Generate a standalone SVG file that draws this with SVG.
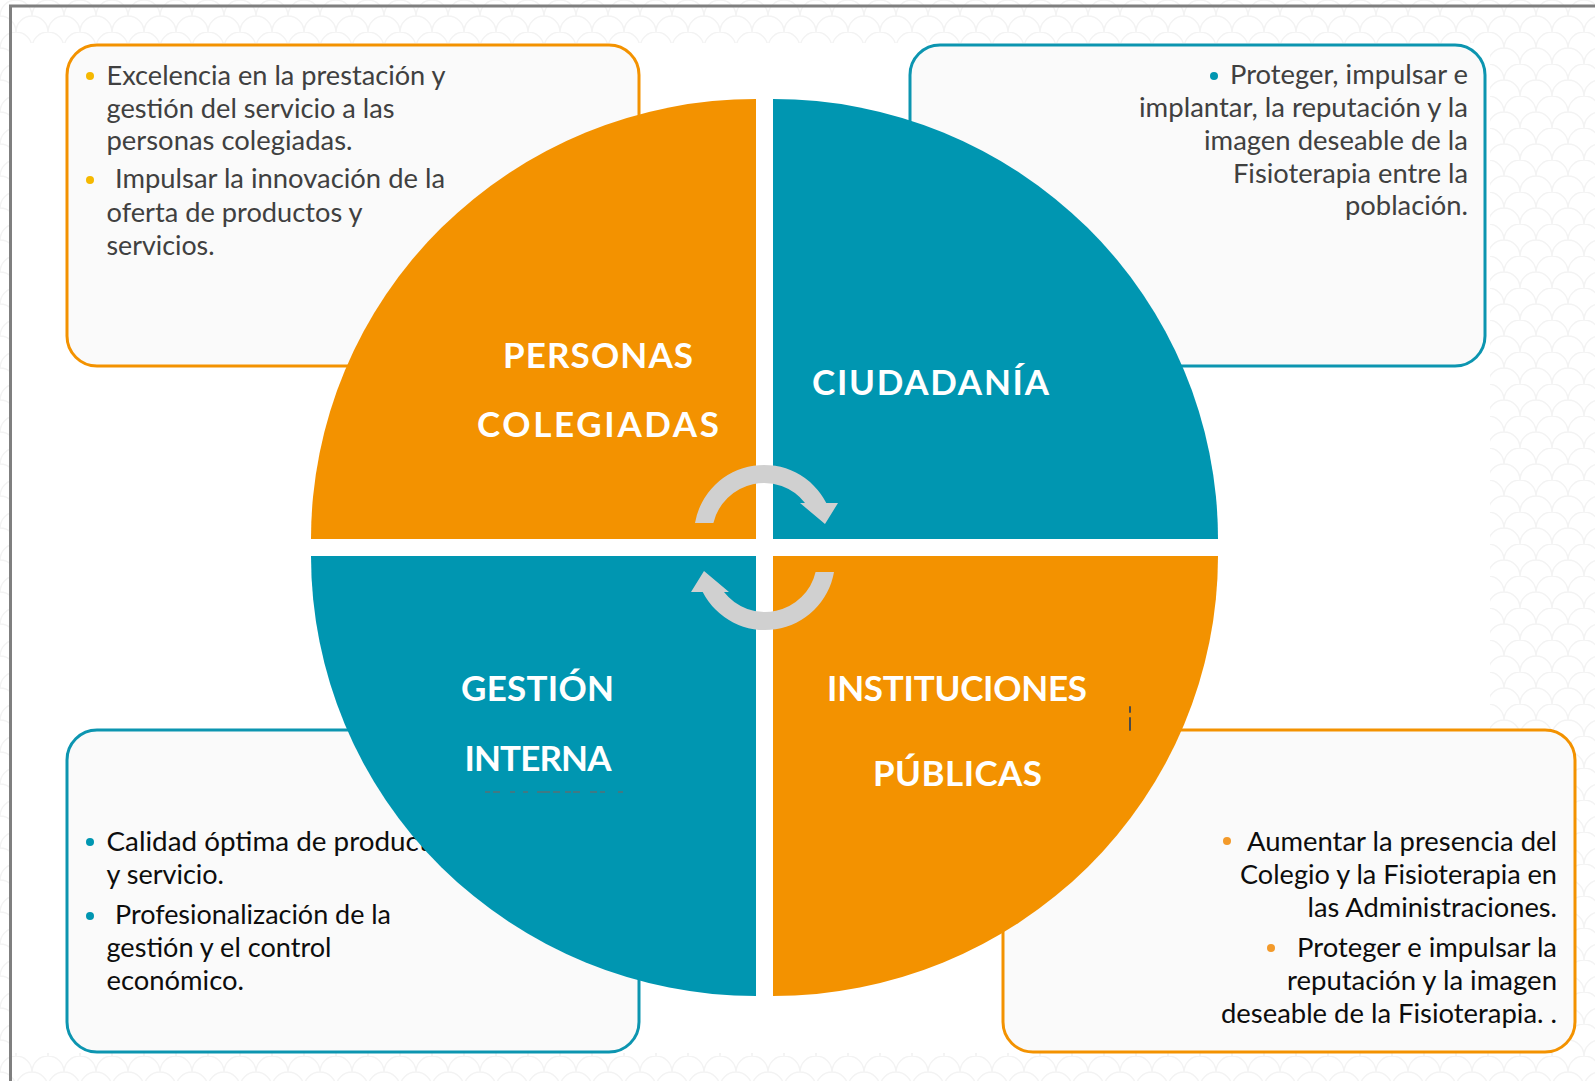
<svg xmlns="http://www.w3.org/2000/svg" width="1595" height="1081" viewBox="0 0 1595 1081">
<defs>
<pattern id="scales" width="32" height="32" patternUnits="userSpaceOnUse">
<path d="M0,16 A16,16 0 0 1 32,16 M-16,32 A16,16 0 0 1 16,32 M16,32 A16,16 0 0 1 48,32 M-16,0 A16,16 0 0 1 16,0 M16,0 A16,16 0 0 1 48,0" fill="none" stroke="#f3f3f3" stroke-width="1.5"/>
</pattern>
</defs>
<style>
.box{fill:#fafafa;stroke-width:3}
.bo{stroke:#f39200}
.bt{stroke:#0c95b0}
.qo{fill:#f39200}
.qt{fill:#0096b1}
.body{font-family:Lato,"Liberation Sans",sans-serif;font-size:27.5px}
.g1{fill:#404040}
.g2{fill:#0d0d0d}
.lbl{font-family:Lato,"Liberation Sans",sans-serif;font-weight:700;font-size:35px;fill:#ffffff;text-anchor:middle}
.arr{fill:#d0d0d0}
</style>
<rect x="0" y="0" width="1595" height="1081" fill="#ffffff"/>
<rect x="0" y="0" width="1595" height="1081" fill="url(#scales)"/>
<rect x="12" y="43" width="1478" height="1010" fill="#ffffff"/>
<path d="M10.5,1081 V6 H1595" fill="none" stroke="#7f7f7f" stroke-width="3"/>

<g id="box-personas">
<rect class="box bo" x="67" y="45" width="572" height="321" rx="30"/>
<circle cx="90" cy="76" r="4" fill="#f5b800"/>
<circle cx="90" cy="180" r="4" fill="#f5b800"/>
<g class="body g1">
<text x="106.5" y="85" textLength="339" lengthAdjust="spacingAndGlyphs">Excelencia en la prestación y</text>
<text x="106.5" y="117.5" textLength="288" lengthAdjust="spacingAndGlyphs">gestión del servicio a las</text>
<text x="106.5" y="150" textLength="246" lengthAdjust="spacingAndGlyphs">personas colegiadas.</text>
<text x="115" y="188" textLength="330" lengthAdjust="spacingAndGlyphs">Impulsar la innovación de la</text>
<text x="106.5" y="222" textLength="256" lengthAdjust="spacingAndGlyphs">oferta de productos y</text>
<text x="106.5" y="255" textLength="108" lengthAdjust="spacingAndGlyphs">servicios.</text>
</g>
</g>

<g id="box-ciudadania">
<rect class="box bt" x="910" y="45" width="575" height="321" rx="30"/>
<circle cx="1214" cy="76" r="4" fill="#0096b1"/>
<g class="body g1" text-anchor="end">
<text x="1468" y="84" textLength="238" lengthAdjust="spacingAndGlyphs">Proteger, impulsar e</text>
<text x="1468" y="117" textLength="329" lengthAdjust="spacingAndGlyphs">implantar, la reputación y la</text>
<text x="1468" y="150" textLength="264" lengthAdjust="spacingAndGlyphs">imagen deseable de la</text>
<text x="1468" y="183" textLength="235" lengthAdjust="spacingAndGlyphs">Fisioterapia entre la</text>
<text x="1468" y="215" textLength="123" lengthAdjust="spacingAndGlyphs">población.</text>
</g>
</g>

<g id="box-gestion">
<rect class="box bt" x="67" y="730" width="572" height="322" rx="30"/>
<circle cx="90" cy="842" r="4" fill="#0096b1"/>
<circle cx="90" cy="916" r="4" fill="#0096b1"/>
<g class="body g2">
<text x="106.5" y="850.5" textLength="350" lengthAdjust="spacingAndGlyphs">Calidad óptima de productos</text>
<text x="106.5" y="884" textLength="117.5" lengthAdjust="spacingAndGlyphs">y servicio.</text>
<text x="115" y="924" textLength="276" lengthAdjust="spacingAndGlyphs">Profesionalización de la</text>
<text x="106.5" y="957" textLength="225" lengthAdjust="spacingAndGlyphs">gestión y el control</text>
<text x="106.5" y="990" textLength="137.5" lengthAdjust="spacingAndGlyphs">económico.</text>
</g>
</g>

<g id="box-instituciones">
<rect class="box bo" x="1003" y="730" width="572" height="322" rx="30"/>
<circle cx="1227" cy="841" r="4" fill="#f39a2a"/>
<circle cx="1271" cy="948" r="4" fill="#f39a2a"/>
<g class="body g2" text-anchor="end">
<text x="1557" y="850.5" textLength="310" lengthAdjust="spacingAndGlyphs">Aumentar la presencia del</text>
<text x="1557" y="884" textLength="317" lengthAdjust="spacingAndGlyphs">Colegio y la Fisioterapia en</text>
<text x="1557" y="916.5" textLength="249.5" lengthAdjust="spacingAndGlyphs">las Administraciones.</text>
<text x="1557" y="957" textLength="260" lengthAdjust="spacingAndGlyphs">Proteger e impulsar la</text>
<text x="1557" y="990" textLength="270" lengthAdjust="spacingAndGlyphs">reputación y la imagen</text>
<text x="1557" y="1022.5" textLength="336" lengthAdjust="spacingAndGlyphs">deseable de la Fisioterapia. .</text>
</g>
</g>

<g id="q-personas">
<path class="qo" d="M756,539 L311,539 A445,440 0 0 1 756,99 Z"/>
<text class="lbl" x="598" y="368" textLength="190">PERSONAS</text>
<text class="lbl" x="598" y="437" textLength="242">COLEGIADAS</text>
</g>
<g id="q-ciudadania">
<path class="qt" d="M773,539 L773,99 A445,440 0 0 1 1218,539 Z"/>
<text class="lbl" x="930.5" y="395" textLength="237">CIUDADANÍA</text>
</g>
<g id="q-instituciones">
<path class="qo" d="M773,556 L1218,556 A445,440 0 0 1 773,996 Z"/>
<text class="lbl" x="957" y="701" textLength="260">INSTITUCIONES</text>
<text class="lbl" x="957.5" y="786" textLength="169">PÚBLICAS</text>
<path d="M1130,707 v5 M1130,718 v12" stroke="#4a4a4a" stroke-width="2" stroke-linecap="round"/>
</g>
<g id="q-gestion">
<path class="qt" d="M756,556 L756,996 A445,440 0 0 1 311,556 Z"/>
<text class="lbl" x="537.5" y="701" textLength="153">GESTIÓN</text>
<text class="lbl" x="538" y="771" textLength="147">INTERNA</text>
<path d="M485,792 h5 M493,792 h7 M510,792 h5 M523,792 h5 M537,792 h13 M553,792 h7 M565,792 h6 M573,792 h7 M590,792 h7 M600,792 h5 M618,792 h5" stroke="#6a6a6a" stroke-width="1.5" opacity="0.8"/>
</g>

<g id="connectors">
<path class="arr" d="M695,523 A70,70 0 0 1 826.3,503 L838,503 L825,524 L800,503 L805,503 A52,52 0 0 0 713.4,523 Z"/>
<path class="arr" transform="rotate(180 764.5 547.5)" d="M695,523 A70,70 0 0 1 826.3,503 L838,503 L825,524 L800,503 L805,503 A52,52 0 0 0 713.4,523 Z"/>
</g>
</svg>
